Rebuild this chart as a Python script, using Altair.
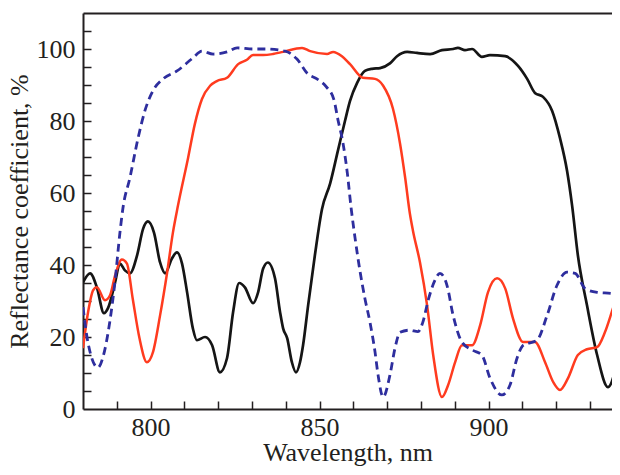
import altair as alt
import pandas as pd

# ---- data ----
black_nm = [780.0, 782.1, 784.1, 786.2, 787.4, 789.5, 790.9, 792.4, 793.9, 796.0, 797.8, 799.2,
            801.0, 802.8, 804.3, 806.3, 807.8, 809.3, 810.8, 812.5, 813.7, 816.1, 818.2, 820.5,
            822.6, 824.4, 826.2, 827.9, 830.3, 831.8, 833.3, 834.7, 836.8, 838.3, 839.2, 840.4,
            841.8, 843.0, 844.2, 845.1, 846.6, 848.6, 850.7, 853.1, 855.4, 857.5, 859.0, 861.1,
            863.4, 865.5, 867.9, 870.8, 872.9, 875.9, 878.8, 882.7, 886.2, 889.5, 890.9, 893.0,
            895.1, 898.0, 900.4, 904.9, 908.7, 911.4, 913.7, 916.1, 918.8, 921.1, 923.2, 924.7,
            926.4, 929.1, 932.1, 935.3, 938.9]
black_r = [35.2, 37.7, 33.8, 26.6, 28.0, 35.2, 40.4, 38.5, 37.7, 42.7, 50.1, 52.1,
           49.0, 40.7, 37.7, 41.8, 43.5, 40.4, 32.4, 22.4, 19.1, 20.0, 17.7, 10.2,
           14.1, 26.9, 35.0, 33.8, 29.4, 32.4, 39.0, 40.7, 36.3, 26.9, 22.4, 19.7,
           13.0, 10.2, 13.0, 17.7, 28.8, 42.7, 55.5, 62.6, 71.7, 80.0, 85.6, 90.6,
           93.9, 94.5, 94.7, 96.0, 98.0, 99.2, 98.9, 98.6, 99.7, 100.0, 100.3, 99.7,
           100.0, 97.8, 98.3, 98.0, 95.3, 91.7, 87.8, 86.7, 82.8, 75.3, 66.2, 56.5,
           42.7, 28.8, 15.0, 6.1, 16.9]

red_nm = [780.0, 781.5, 783.0, 784.1, 786.5, 788.0, 789.5, 791.5, 793.0, 794.7, 796.7, 798.9,
          800.7, 802.8, 804.9, 806.6, 808.1, 811.1, 813.1, 815.2, 817.6, 819.6, 822.6, 825.9,
          828.5, 830.3, 833.3, 836.2, 839.2, 844.8, 847.2, 852.2, 854.0, 856.6, 859.0, 862.8,
          866.4, 868.8, 871.7, 873.8, 875.3, 876.7, 877.6, 879.7, 881.8, 883.6, 886.2, 888.0,
          890.1, 892.1, 895.1, 897.5, 899.8, 902.5, 904.9, 907.2, 910.2, 913.7, 916.7, 919.1,
          921.1, 923.5, 926.4, 929.1, 932.1, 934.4, 936.8, 938.9]
red_r = [16.9, 26.9, 33.0, 33.8, 30.2, 31.6, 37.1, 41.5, 40.4, 30.7, 19.7, 13.0,
         15.8, 26.0, 38.0, 49.0, 56.5, 69.8, 79.2, 86.1, 89.8, 91.1, 92.0, 95.8,
         97.0, 98.3, 98.3, 98.6, 99.2, 100.3, 99.4, 98.6, 99.2, 98.0, 95.8, 92.0,
         91.7, 89.8, 83.4, 73.7, 64.3, 54.3, 49.6, 40.7, 28.8, 15.0, 3.3, 6.6,
         13.0, 17.7, 17.7, 23.3, 32.4, 36.3, 33.5, 25.2, 18.6, 18.6, 13.0, 7.5,
         5.3, 8.6, 15.0, 16.6, 17.2, 21.3, 28.0, 33.8]

blue_nm = [780.0, 781.5, 784.4, 785.9, 788.0, 789.5, 790.9, 791.8, 793.9, 796.3, 798.3, 800.7,
           803.7, 807.8, 812.5, 815.2, 818.5, 822.6, 825.6, 830.3, 833.8, 839.8, 843.3, 846.6,
           849.2, 852.0, 854.2, 855.5, 856.8, 858.2, 859.3, 860.5, 862.0, 863.4, 864.9, 866.4,
           867.3, 868.8, 870.8, 872.3, 873.8, 876.7, 879.1, 880.5, 882.2, 884.0, 885.6, 887.7,
           889.5, 892.1, 895.4, 898.0, 900.4, 903.9, 906.3, 908.4, 910.2, 914.3, 917.3, 920.2,
           923.2, 925.6, 928.5, 932.1, 936.5, 938.9]
blue_r = [28.3, 18.3, 11.5, 14.4, 24.7, 35.7, 48.8, 55.7, 64.3, 75.3, 82.8, 88.4,
          91.7, 93.9, 97.5, 99.4, 98.6, 99.2, 100.3, 100.0, 100.0, 99.4, 97.2, 93.0,
          91.7, 89.5, 86.0, 80.0, 74.5, 65.5, 56.0, 47.4, 38.0, 30.7, 24.1, 15.8,
          9.4, 3.3, 9.4, 16.9, 21.3, 21.9, 21.5, 24.0, 30.5, 35.5, 37.7, 34.3,
          26.0, 18.6, 16.3, 15.0, 8.6, 3.9, 6.6, 14.1, 17.7, 19.1, 26.0, 34.3,
          38.0, 37.7, 33.5, 32.4, 32.1, 28.3]

x_labels = [800, 850, 900]
x_ticks = [790, 800, 810, 820, 830, 840, 850, 860, 870, 880, 890, 900, 910, 920, 930]
y_labels = [0, 20, 40, 60, 80, 100]
y_ticks = [5, 10, 15, 20, 25, 30, 35, 40, 45, 50, 55, 60, 65, 70, 75, 80, 85, 90, 95, 100, 105]

X_DOMAIN = [780, 936.5]
Y_DOMAIN = [0, 110]
W, H = 529, 396

black = pd.DataFrame({"nm": black_nm, "r": black_r})
red = pd.DataFrame({"nm": red_nm, "r": red_r})
blue = pd.DataFrame({"nm": blue_nm, "r": blue_r})

xs = alt.Scale(domain=X_DOMAIN, nice=False, zero=False)
ys = alt.Scale(domain=Y_DOMAIN, nice=False, zero=False)

black_layer = alt.Chart(black).mark_line(
    color="#151515", strokeWidth=2.7, interpolate="monotone", clip=True
).encode(
    x=alt.X("nm:Q", scale=xs, axis=alt.Axis(
        orient="bottom", values=x_labels, ticks=False, labelPadding=5,
        title="Wavelength, nm", titlePadding=-1, grid=False)),
    y=alt.Y("r:Q", scale=ys, axis=alt.Axis(
        orient="left", values=y_labels, ticks=False, labelPadding=8,
        title="Reflectance coefficient, %", titlePadding=4, grid=False)),
)

red_layer = alt.Chart(red).mark_line(
    color="#ff3b1f", strokeWidth=2.5, interpolate="monotone", clip=True
).encode(
    x=alt.X("nm:Q", scale=xs, axis=None),
    y=alt.Y("r:Q", scale=ys, axis=None),
)

blue_layer = alt.Chart(blue).mark_line(
    color="#2e2e9e", strokeWidth=2.8, strokeDash=[8, 5], interpolate="monotone", clip=True
).encode(
    x=alt.X("nm:Q", scale=xs, axis=None),
    y=alt.Y("r:Q", scale=ys, axis=None),
)

# inward ticks (axes placed on the opposite edge so ticks point into the plot)
tick_layer = alt.Chart(black).mark_line(strokeOpacity=0).encode(
    x=alt.X("nm:Q", scale=xs, axis=alt.Axis(
        orient="top", offset=-H, values=x_ticks, labels=False, domain=False,
        tickSize=8, title=None, grid=False)),
    y=alt.Y("r:Q", scale=ys, axis=alt.Axis(
        orient="right", offset=-W, values=y_ticks, labels=False, domain=False,
        tickSize=8, title=None, grid=False)),
)

# top frame line
frame_layer = alt.Chart(black).mark_line(strokeOpacity=0).encode(
    x=alt.X("nm:Q", scale=xs, axis=alt.Axis(
        orient="top", labels=False, ticks=False, domain=True, title=None, grid=False)),
    y=alt.Y("r:Q", scale=ys, axis=None),
)

chart = alt.layer(
    black_layer, red_layer, blue_layer, tick_layer, frame_layer
).resolve_axis(
    x="independent", y="independent"
).properties(
    width=W, height=H,
    autosize=alt.AutoSizeParams(type="none"),
    padding={"left": 75, "top": 5, "right": 0, "bottom": 58},
).configure_view(
    stroke=None
).configure_axis(
    labelFont="Liberation Serif", labelFontSize=26, labelColor="#231f20",
    titleFont="Liberation Serif", titleFontSize=26, titleFontWeight="normal",
    titleColor="#231f20",
    domainColor="#231f20", domainWidth=2,
    tickColor="#231f20", tickWidth=1.5,
)

chart.save("out.html", embed_options={"renderer": "svg", "actions": False})
